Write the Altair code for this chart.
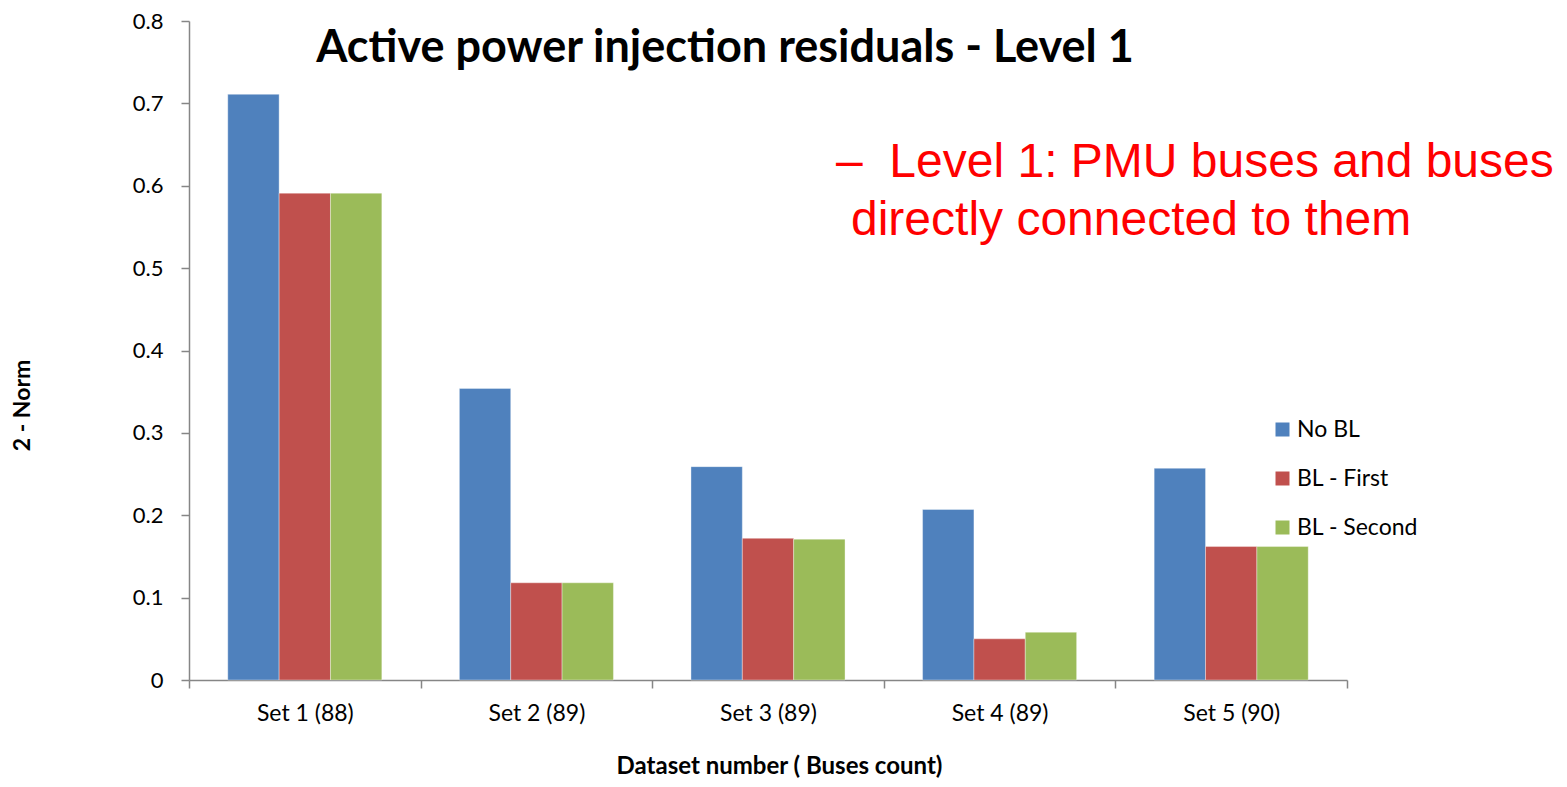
import altair as alt
import pandas as pd

sets = ["Set 1 (88)", "Set 2 (89)", "Set 3 (89)", "Set 4 (89)", "Set 5 (90)"]
series = ["No BL", "BL - First", "BL - Second"]
no_bl = [0.711, 0.354, 0.259, 0.207, 0.257]
bl_first = [0.591, 0.118, 0.172, 0.050, 0.162]
bl_second = [0.591, 0.118, 0.171, 0.058, 0.162]
colors = ["#4F81BD", "#C0504D", "#9BBB59"]

rows = []
for i, s in enumerate(sets):
    for name, vals in zip(series, [no_bl, bl_first, bl_second]):
        rows.append({"set": s, "series": name, "value": vals[i]})
df = pd.DataFrame(rows)

FONT = "Lato"
AXIS_COLOR = "#868686"

bars = alt.Chart(df).mark_bar(stroke="#ffffff", strokeWidth=0.6, strokeOpacity=0.6).encode(
    x=alt.X("set:N", sort=sets,
            scale=alt.Scale(paddingInner=0, paddingOuter=0),
            axis=alt.Axis(title="Dataset number ( Buses count)", labelAngle=0,
                          tickBand="extent", tickSize=8, labelPadding=14,
                          labelFontSize=23, labelFont=FONT, labelColor="#000000",
                          titleFont=FONT, titleFontSize=24, titleFontWeight="bold",
                          titleColor="#000000", titleX=590, titleY=93,
                          titleBaseline="alphabetic", titleAlign="center",
                          domainColor=AXIS_COLOR, tickColor=AXIS_COLOR,
                          domainWidth=1.5, tickWidth=1.5)),
    xOffset=alt.XOffset("series:N", sort=series,
                        scale=alt.Scale(paddingInner=0, paddingOuter=0.755)),
    y=alt.Y("value:Q",
            scale=alt.Scale(domain=[0, 0.8], nice=False),
            axis=alt.Axis(title="2 - Norm", values=[0, 0.1, 0.2, 0.3, 0.4, 0.5, 0.6, 0.7, 0.8],
                          format="~g", grid=False, tickSize=8, labelPadding=18,
                          labelFontSize=22, labelFont=FONT, labelColor="#000000",
                          titleFont=FONT, titleFontSize=23, titleFontWeight="bold",
                          titleColor="#000000", titleX=-167, titleY=384,
                          titleAngle=-90, titleBaseline="middle", titleAlign="center",
                          domainColor=AXIS_COLOR, tickColor=AXIS_COLOR,
                          domainWidth=1.5, tickWidth=1.5)),
    color=alt.Color("series:N", sort=series,
                    scale=alt.Scale(domain=series, range=colors),
                    legend=alt.Legend(title=None, orient="none", legendX=1082, legendY=397,
                                      symbolType="square", symbolSize=196,
                                      symbolStrokeWidth=0,
                                      labelFont=FONT, labelFontSize=23, labelColor="#000000",
                                      rowPadding=25, padding=0, labelOffset=3)),
)

title_df = pd.DataFrame({"t": ["Active power injection residuals - Level 1"]})
title = alt.Chart(title_df).mark_text(
    font=FONT, fontSize=45, fontWeight="bold", color="#000000",
    align="center", baseline="alphabetic"
).encode(text="t:N", x=alt.value(536), y=alt.value(41))

note_lines = ["\u2013\u00a0\u00a0Level 1: PMU buses and buses", "directly connected to them"]
note1 = alt.Chart(pd.DataFrame({"t": [note_lines[0]]})).mark_text(
    font="Liberation Sans", fontSize=48, color="#FF0000", align="left", baseline="alphabetic"
).encode(text="t:N", x=alt.value(647), y=alt.value(156))
note2 = alt.Chart(pd.DataFrame({"t": [note_lines[1]]})).mark_text(
    font="Liberation Sans", fontSize=48, color="#FF0000", align="left", baseline="alphabetic"
).encode(text="t:N", x=alt.value(662), y=alt.value(214))

chart = alt.layer(bars, title, note1, note2).properties(
    width=1158, height=659,
    autosize=alt.AutoSizeParams(type="none"),
    padding={"left": 181, "top": 13, "right": 210, "bottom": 99},
).configure(background="#ffffff").configure_view(stroke=None)

chart.save("out.html", embed_options={"renderer": "svg", "actions": False})
